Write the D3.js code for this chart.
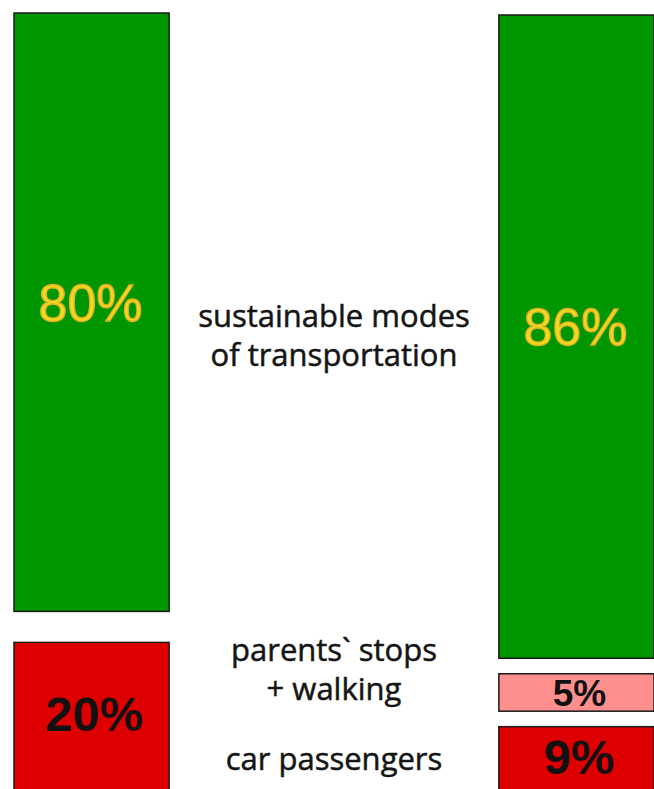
<!DOCTYPE html>
<html>
<head>
<meta charset="utf-8">
<script src="https://cdn.jsdelivr.net/npm/d3@7"></script>
<style>
  body { margin: 0; background: #fff; }
  svg { display: block; }
</style>
</head>
<body>
<svg class="chart"></svg>
<script>
// dados
const groups = ["before", "after"];
const categories = ["sustainable modes of transportation", "parents` stops + walking", "car passengers"];
const beforeValues = [80, 0, 20];
const afterValues = [86, 5, 9];
const valueLabels = [["80%", "", "20%"], ["86%", "5%", "9%"]];
const categoryLines = [["sustainable modes", "of transportation"], ["parents` stops", "+ walking"], ["car passengers"]];

const colors = {
  "sustainable modes of transportation": "#009600",
  "parents` stops + walking": "#ff8f8f",
  "car passengers": "#de0000"
};

const w = 654, h = 789;
const gap = 15.5;
const tops = [13, 15];

const svg = d3.select('svg.chart')
  .attr('width', w)
  .attr('height', h);

const x = d3.scaleBand()
  .domain(groups)
  .range([14, 654])
  .paddingInner(0.68);

const y = d3.scaleLinear()
  .domain([0, 100])
  .range([0, 748]);

// monta os segmentos empilhados com um espaço entre eles
const segs = [];
[beforeValues, afterValues].forEach((vals, gi) => {
  let y0 = tops[gi];
  vals.forEach((v, ci) => {
    const hh = y(v);
    segs.push({ group: groups[gi], gi, ci, cat: categories[ci], v, y0, h: hh, label: valueLabels[gi][ci] });
    y0 += hh + gap;
  });
});

const shown = segs.filter(d => d.v > 0);

svg.selectAll('rect.seg')
  .data(shown)
  .join('rect')
  .classed('seg', true)
  .attr('x', d => x(d.group))
  .attr('y', d => d.y0)
  .attr('width', x.bandwidth())
  .attr('height', d => d.h)
  .attr('fill', d => colors[d.cat])
  .attr('stroke', '#1a1a1a')
  .attr('stroke-width', 1.5);

// rótulos de porcentagem
const fontSize = d => d.ci == 0 ? 52 : (d.v < 7 ? 37 : 49);
svg.selectAll('text.pct')
  .data(shown)
  .join('text')
  .classed('pct', true)
  .attr('x', d => x(d.group) + x.bandwidth() / 2 + (d.ci == 0 ? -1 : 3))
  .attr('y', d => d.y0 + d.h / 2 + 0.36 * fontSize(d) - (d.ci == 0 ? 10 : (d.v < 7 ? 0 : 4)))
  .attr('text-anchor', 'middle')
  .attr('font-family', 'Liberation Sans, Arial, sans-serif')
  .attr('font-weight', d => d.ci == 0 ? 'normal' : 'bold')
  .attr('font-size', fontSize)
  .attr('fill', d => d.ci == 0 ? '#f2da22' : '#111')
  .attr('stroke', d => d.ci == 0 ? '#e0b020' : 'none')
  .attr('stroke-width', 1.3)
  .text(d => d.label);

// legendas no meio, alinhadas aos segmentos da barra da direita
const mid = (x(groups[0]) + x.bandwidth() + x(groups[1])) / 2;
const afterSegs = segs.filter(d => d.gi == 1);
const lineH = 39;
const offsets = [0, -22, 0];

categoryLines.forEach((lines, ci) => {
  const s = afterSegs[ci];
  const cy = s.y0 + s.h / 2 + offsets[ci];
  const t = svg.append('text')
    .attr('text-anchor', 'middle')
    .attr('font-family', 'Open Sans, sans-serif')
    .attr('font-size', 31)
    .attr('fill', '#151515')
    .attr('stroke', '#151515')
    .attr('stroke-width', 0.5);
  lines.forEach((ln, i) => {
    t.append('tspan')
      .attr('x', mid)
      .attr('y', cy + (i - (lines.length - 1) / 2) * lineH + 10)
      .text(ln);
  });
});
</script>
</body>
</html>
